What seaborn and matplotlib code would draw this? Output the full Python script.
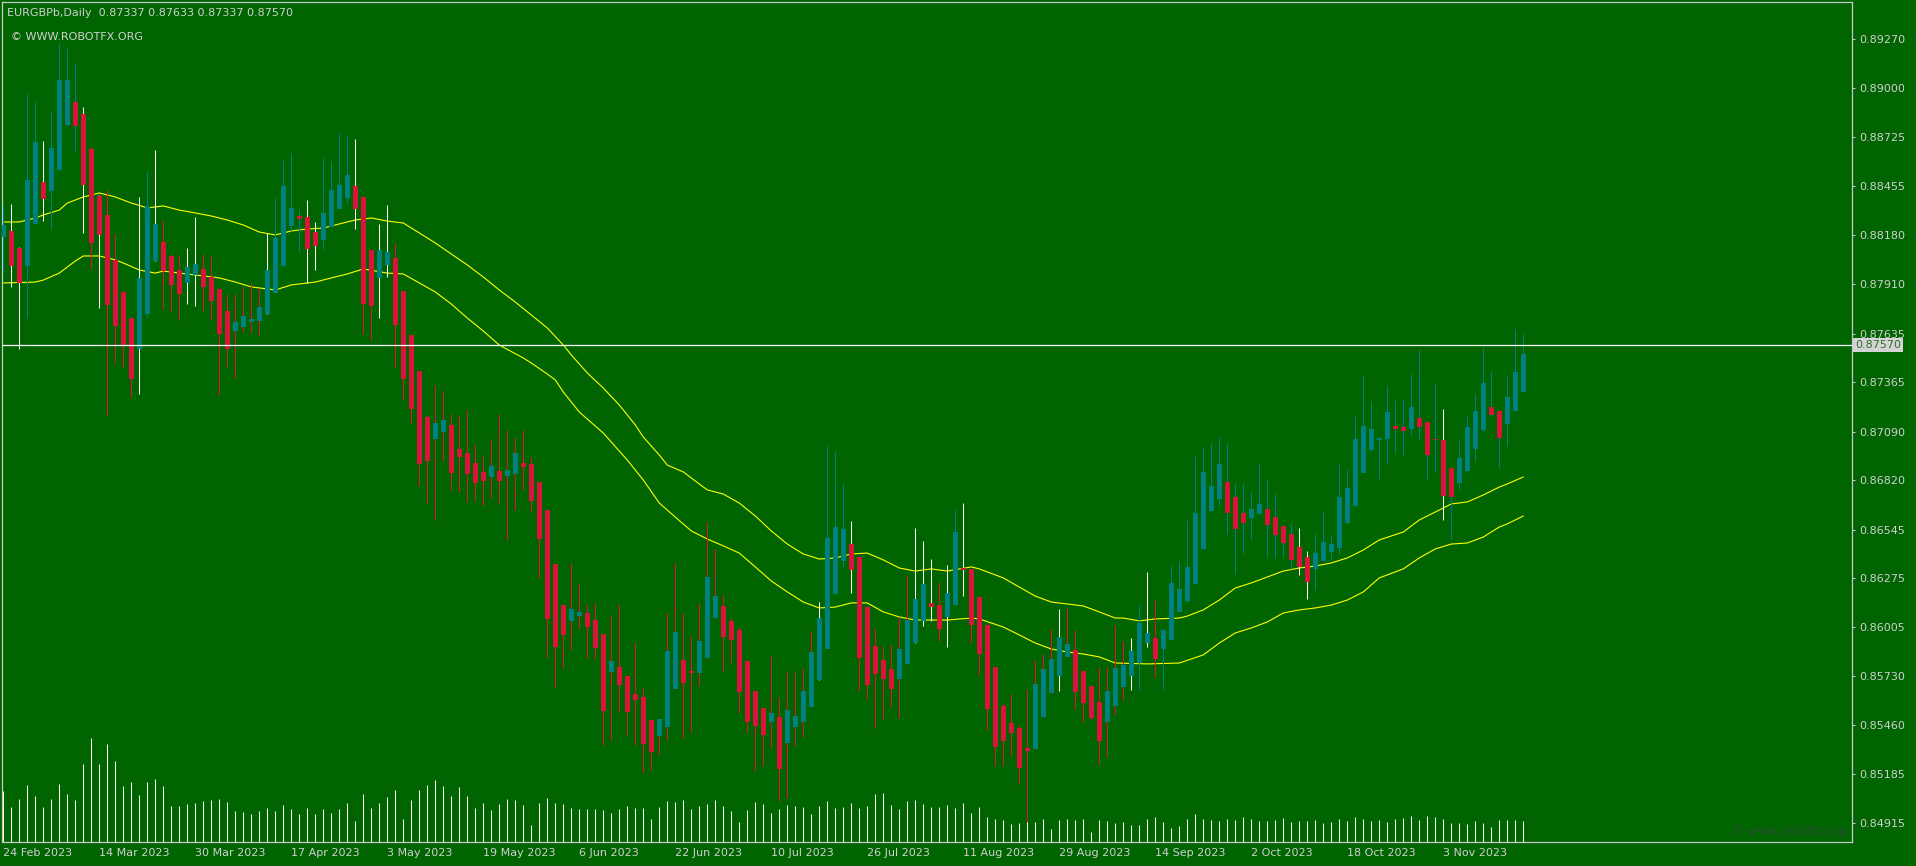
import matplotlib
matplotlib.use("Agg")
import numpy as np
import pandas as pd
import matplotlib.pyplot as plt
import seaborn as sns

# ── DATA (Heiken-Ashi daily candles, EURGBP) ────────────────────────────────
symbol = "EURGBPb,Daily"
last_ohlc = ["0.87337", "0.87633", "0.87337", "0.87570"]
last_price = 0.87570
start_date = "2023-02-24"

ha_open = [
    0.88171, 0.88205, 0.88110, 0.88010, 0.88244, 0.88477, 0.88427, 0.88544, 0.88794, 0.88922,
    0.88855, 0.88660, 0.88399, 0.88294, 0.88044, 0.87866, 0.87721, 0.87549, 0.87744, 0.88038,
    0.88144, 0.88066, 0.87988, 0.87916, 0.87960, 0.87994, 0.87949, 0.87882, 0.87760, 0.87649,
    0.87671, 0.87699, 0.87705, 0.87744, 0.87860, 0.88010, 0.88233, 0.88288, 0.88282, 0.88199,
    0.88155, 0.88227, 0.88327, 0.88388, 0.88455, 0.88394, 0.88099, 0.87944, 0.88016, 0.88055,
    0.87871, 0.87627, 0.87427, 0.87171, 0.87049, 0.87088, 0.87127, 0.86993, 0.86971, 0.86916,
    0.86866, 0.86838, 0.86871, 0.86843, 0.86854, 0.86916, 0.86910, 0.86810, 0.86654, 0.86354,
    0.86126, 0.86038, 0.86065, 0.86082, 0.86043, 0.85965, 0.85754, 0.85782, 0.85732, 0.85632,
    0.85615, 0.85487, 0.85398, 0.85449, 0.85660, 0.85821, 0.85760, 0.85749, 0.85832, 0.86054,
    0.86121, 0.86038, 0.85988, 0.85815, 0.85649, 0.85554, 0.85476, 0.85504, 0.85360, 0.85449,
    0.85476, 0.85560, 0.85710, 0.85882, 0.86188, 0.86371, 0.86465, 0.86393, 0.86115, 0.85899,
    0.85821, 0.85771, 0.85715, 0.85799, 0.85915, 0.86038, 0.86138, 0.86126, 0.86060, 0.86126,
    0.86327, 0.86327, 0.86171, 0.86015, 0.85782, 0.85565, 0.85471, 0.85443, 0.85332, 0.85326,
    0.85504, 0.85637, 0.85732, 0.85838, 0.85876, 0.85760, 0.85676, 0.85587, 0.85476, 0.85565,
    0.85671, 0.85732, 0.85804, 0.85915, 0.85943, 0.85882, 0.85932, 0.86088, 0.86149, 0.86243,
    0.86438, 0.86649, 0.86716, 0.86810, 0.86727, 0.86638, 0.86610, 0.86632, 0.86660, 0.86615,
    0.86565, 0.86521, 0.86449, 0.86393, 0.86327, 0.86371, 0.86421, 0.86443, 0.86582, 0.86677,
    0.86860, 0.86988, 0.87043, 0.87049, 0.87121, 0.87116, 0.87104, 0.87166, 0.87143, 0.87049,
    0.87043, 0.86888, 0.86804, 0.86871, 0.86993, 0.87099, 0.87227, 0.87205, 0.87132, 0.87205,
    0.87310,
]
ha_high = [
    0.88349, 0.88355, 0.88116, 0.88966, 0.88922, 0.88705, 0.88872, 0.89250, 0.89222, 0.89138,
    0.88894, 0.88672, 0.88405, 0.88433, 0.88188, 0.87877, 0.87721, 0.88394, 0.88538, 0.88655,
    0.88266, 0.88077, 0.88071, 0.88110, 0.88282, 0.88077, 0.88066, 0.87882, 0.87855, 0.87855,
    0.87899, 0.87916, 0.87888, 0.88194, 0.88388, 0.88599, 0.88638, 0.88327, 0.88377, 0.88255,
    0.88610, 0.88594, 0.88749, 0.88733, 0.88716, 0.88394, 0.88099, 0.88244, 0.88349, 0.88138,
    0.87871, 0.87632, 0.87427, 0.87182, 0.87349, 0.87316, 0.87188, 0.87182, 0.87210, 0.87021,
    0.86960, 0.87049, 0.87188, 0.87099, 0.87060, 0.87099, 0.86949, 0.86810, 0.86654, 0.86354,
    0.86126, 0.86360, 0.86249, 0.86132, 0.86138, 0.85965, 0.86071, 0.86132, 0.85732, 0.85921,
    0.85665, 0.85487, 0.85493, 0.86082, 0.86360, 0.86082, 0.85954, 0.86138, 0.86588, 0.86438,
    0.86182, 0.86054, 0.86004, 0.85815, 0.85649, 0.85554, 0.85843, 0.85615, 0.85760, 0.85754,
    0.85776, 0.85982, 0.86143, 0.87010, 0.86982, 0.86799, 0.86593, 0.86393, 0.86115, 0.85999,
    0.85899, 0.85910, 0.86060, 0.86293, 0.86554, 0.86482, 0.86382, 0.86254, 0.86349, 0.86660,
    0.86693, 0.86327, 0.86171, 0.86015, 0.85782, 0.85582, 0.85632, 0.85460, 0.85660, 0.85821,
    0.85854, 0.85993, 0.86104, 0.86110, 0.85988, 0.85760, 0.85676, 0.85782, 0.85782, 0.86015,
    0.85926, 0.85943, 0.86126, 0.86310, 0.86154, 0.85988, 0.86343, 0.86371, 0.86599, 0.86954,
    0.87004, 0.87027, 0.87060, 0.87027, 0.86804, 0.86804, 0.86754, 0.86916, 0.86827, 0.86743,
    0.86571, 0.86582, 0.86554, 0.86427, 0.86521, 0.86649, 0.86515, 0.86910, 0.86882, 0.87177,
    0.87405, 0.87260, 0.87060, 0.87343, 0.87266, 0.87271, 0.87410, 0.87543, 0.87143, 0.87360,
    0.87216, 0.86893, 0.87043, 0.87177, 0.87299, 0.87555, 0.87427, 0.87210, 0.87399, 0.87660,
    0.87633,
]
ha_low = [
    0.87971, 0.87894, 0.87549, 0.87721, 0.88244, 0.88260, 0.88216, 0.88544, 0.88794, 0.88649,
    0.88194, 0.87994, 0.87777, 0.87182, 0.87471, 0.87449, 0.87282, 0.87299, 0.87721, 0.88038,
    0.87771, 0.87755, 0.87710, 0.87799, 0.87788, 0.87760, 0.87710, 0.87293, 0.87449, 0.87388,
    0.87643, 0.87638, 0.87621, 0.87744, 0.87860, 0.88010, 0.88205, 0.88088, 0.87916, 0.87988,
    0.88105, 0.88227, 0.88327, 0.88360, 0.88216, 0.87632, 0.87599, 0.87721, 0.87949, 0.87449,
    0.87266, 0.87138, 0.86788, 0.86693, 0.86599, 0.86927, 0.86766, 0.86754, 0.86699, 0.86704,
    0.86677, 0.86721, 0.86688, 0.86488, 0.86654, 0.86766, 0.86649, 0.86277, 0.85832, 0.85671,
    0.85776, 0.85876, 0.85993, 0.85832, 0.85826, 0.85348, 0.85376, 0.85532, 0.85404, 0.85348,
    0.85198, 0.85210, 0.85293, 0.85376, 0.85660, 0.85387, 0.85421, 0.85676, 0.85832, 0.86054,
    0.85760, 0.85804, 0.85526, 0.85415, 0.85204, 0.85232, 0.85332, 0.85037, 0.85054, 0.85343,
    0.85393, 0.85560, 0.85710, 0.85882, 0.86188, 0.86338, 0.86193, 0.85649, 0.85604, 0.85443,
    0.85493, 0.85560, 0.85499, 0.85799, 0.85915, 0.86010, 0.86038, 0.85926, 0.85893, 0.86126,
    0.86176, 0.85915, 0.85737, 0.85432, 0.85232, 0.85232, 0.85287, 0.85132, 0.84921, 0.85326,
    0.85504, 0.85637, 0.85649, 0.85838, 0.85549, 0.85476, 0.85487, 0.85237, 0.85282, 0.85515,
    0.85599, 0.85654, 0.85654, 0.85893, 0.85726, 0.85654, 0.85932, 0.86088, 0.86143, 0.86243,
    0.86438, 0.86649, 0.86677, 0.86521, 0.86299, 0.86415, 0.86493, 0.86632, 0.86393, 0.86388,
    0.86393, 0.86327, 0.86293, 0.86160, 0.86210, 0.86371, 0.86377, 0.86404, 0.86577, 0.86677,
    0.86860, 0.86977, 0.86827, 0.86910, 0.86971, 0.86954, 0.87071, 0.87043, 0.86821, 0.86866,
    0.86599, 0.86493, 0.86771, 0.86871, 0.86927, 0.87093, 0.87177, 0.86888, 0.87010, 0.87205,
    0.87310,
]
ha_close = [
    0.88238, 0.88010, 0.87916, 0.88488, 0.88699, 0.88383, 0.88666, 0.89044, 0.89044, 0.88788,
    0.88460, 0.88138, 0.88183, 0.87794, 0.87677, 0.87571, 0.87382, 0.87944, 0.88344, 0.88244,
    0.87982, 0.87905, 0.87855, 0.88005, 0.88021, 0.87894, 0.87816, 0.87632, 0.87549, 0.87699,
    0.87732, 0.87716, 0.87782, 0.87988, 0.88166, 0.88455, 0.88333, 0.88271, 0.88105, 0.88121,
    0.88305, 0.88433, 0.88460, 0.88516, 0.88327, 0.87799, 0.87788, 0.88099, 0.88088, 0.87682,
    0.87382, 0.87216, 0.86910, 0.86927, 0.87138, 0.87155, 0.86860, 0.86949, 0.86854, 0.86804,
    0.86816, 0.86899, 0.86816, 0.86877, 0.86971, 0.86893, 0.86704, 0.86493, 0.86049, 0.85893,
    0.85960, 0.86104, 0.86088, 0.86004, 0.85888, 0.85537, 0.85815, 0.85682, 0.85532, 0.85599,
    0.85354, 0.85310, 0.85493, 0.85871, 0.85976, 0.85693, 0.85749, 0.85926, 0.86282, 0.86176,
    0.85949, 0.85932, 0.85643, 0.85476, 0.85454, 0.85404, 0.85526, 0.85215, 0.85543, 0.85510,
    0.85649, 0.85865, 0.86054, 0.86499, 0.86560, 0.86549, 0.86321, 0.85832, 0.85682, 0.85743,
    0.85715, 0.85660, 0.85882, 0.86043, 0.86160, 0.86243, 0.86115, 0.85993, 0.86193, 0.86532,
    0.86321, 0.86015, 0.85854, 0.85549, 0.85337, 0.85371, 0.85415, 0.85221, 0.85315, 0.85687,
    0.85771, 0.85826, 0.85949, 0.85910, 0.85643, 0.85582, 0.85499, 0.85371, 0.85649, 0.85776,
    0.85793, 0.85871, 0.86026, 0.85971, 0.85826, 0.85988, 0.86249, 0.86215, 0.86338, 0.86638,
    0.86866, 0.86788, 0.86910, 0.86638, 0.86549, 0.86582, 0.86660, 0.86688, 0.86571, 0.86515,
    0.86471, 0.86377, 0.86338, 0.86254, 0.86415, 0.86477, 0.86465, 0.86727, 0.86777, 0.87049,
    0.87121, 0.87104, 0.87054, 0.87199, 0.87104, 0.87093, 0.87227, 0.87116, 0.86960, 0.87043,
    0.86732, 0.86727, 0.86943, 0.87116, 0.87205, 0.87360, 0.87182, 0.87054, 0.87282, 0.87421,
    0.87521,
]
# relative tick volume
tick_volume = [
    51, 35, 43, 57, 46, 35, 43, 58, 48, 42,
    78, 104, 78, 98, 81, 56, 60, 47, 60, 63,
    56, 36, 36, 38, 39, 41, 42, 43, 40, 31,
    30, 28, 31, 34, 31, 37, 33, 28, 34, 28,
    33, 29, 33, 39, 21, 48, 34, 39, 45, 52,
    23, 42, 52, 57, 62, 56, 46, 55, 46, 34,
    39, 32, 38, 43, 42, 37, 17, 39, 44, 39,
    38, 34, 33, 33, 33, 32, 29, 33, 36, 34,
    34, 23, 35, 41, 40, 42, 33, 36, 38, 42,
    36, 31, 20, 32, 40, 38, 29, 33, 37, 36,
    35, 28, 36, 41, 34, 35, 39, 34, 36, 48,
    49, 37, 33, 41, 42, 38, 35, 35, 37, 34,
    39, 29, 35, 25, 23, 22, 18, 19, 22, 20,
    23, 13, 22, 23, 22, 23, 10, 22, 21, 19,
    20, 17, 17, 23, 25, 20, 14, 16, 23, 28,
    23, 22, 21, 23, 22, 25, 23, 21, 21, 22,
    24, 20, 21, 21, 22, 19, 20, 23, 21, 25,
    23, 21, 22, 20, 23, 24, 26, 22, 26, 25,
    23, 19, 19, 18, 21, 19, 15, 22, 22, 22,
    21,
]
# wick colour code per bar: t = teal, r = red, w = white
wick_code = (
    "twwttwtttt" "wrwrrrrwtw" "rrrwwrrrrr" "rrrwttttww" "ttttwrrwwr"
    "rrrrrrrrrr" "rrrrrrrrrr" "rrrrrrrrrr" "rrrrrrrrrr" "rrrrrrrrrr"
    "rrwtttwrrr" "rrrrwwwrwt" "wrrrrrrrrr" "rrwrrrrrrr" "rwtwrttttt"
    "tttttttttt" "ttwwtttttt" "tttttttttt" "wttttttttt" "t"
)

# channel lines (MA of highs / MA of lows), sampled at bar index
upper_idx = [0, 2, 4, 5, 7, 8, 10, 12, 14, 16, 18, 20, 22, 24, 26, 28, 30, 32, 34, 36,
             38, 40, 42, 44, 46, 48, 50, 52, 54, 56, 58, 60, 62, 64, 66, 68, 70, 71, 73, 75,
             77, 79, 80, 82, 83, 85, 86, 88, 90, 92, 94, 96, 98, 100, 102, 104, 106, 108, 110, 112,
             114, 116, 118, 121, 122, 125, 127, 129, 131, 133, 135, 137, 139, 140, 142, 144, 147, 148, 150, 152,
             154, 156, 158, 160, 162, 164, 166, 168, 170, 172, 175, 177, 179, 181, 183, 185, 187, 188, 190]
upper_val = [0.88255, 0.88255, 0.88277, 0.88294, 0.88321, 0.88360, 0.88394, 0.88416, 0.88394, 0.88360,
             0.88333, 0.88344, 0.88321, 0.88305, 0.88288, 0.88266, 0.88238, 0.88199, 0.88183, 0.88205,
             0.88216, 0.88221, 0.88244, 0.88266, 0.88277, 0.88260, 0.88249, 0.88194, 0.88138, 0.88077,
             0.88016, 0.87949, 0.87877, 0.87810, 0.87738, 0.87666, 0.87571, 0.87516, 0.87416, 0.87332,
             0.87238, 0.87127, 0.87060, 0.86960, 0.86904, 0.86866, 0.86832, 0.86766, 0.86743, 0.86693,
             0.86621, 0.86538, 0.86465, 0.86410, 0.86382, 0.86388, 0.86410, 0.86415, 0.86377, 0.86332,
             0.86315, 0.86327, 0.86315, 0.86338, 0.86327, 0.86277, 0.86226, 0.86176, 0.86143, 0.86132,
             0.86121, 0.86088, 0.86054, 0.86054, 0.86038, 0.86049, 0.86054, 0.86065, 0.86099, 0.86154,
             0.86221, 0.86249, 0.86282, 0.86315, 0.86332, 0.86343, 0.86360, 0.86388, 0.86432, 0.86488,
             0.86532, 0.86599, 0.86643, 0.86688, 0.86699, 0.86738, 0.86782, 0.86799, 0.86838]
lower_idx = [0, 4, 5, 7, 9, 10, 12, 14, 15, 17, 19, 20, 22, 25, 27, 29, 31, 34, 36, 39,
             41, 43, 45, 48, 50, 52, 54, 56, 58, 60, 62, 65, 66, 68, 69, 70, 72, 75, 78, 80,
             82, 84, 86, 88, 90, 92, 94, 96, 98, 100, 102, 104, 106, 108, 110, 112, 114, 118, 121, 122,
             125, 127, 129, 131, 133, 135, 137, 139, 143, 147, 150, 152, 154, 156, 158, 160, 162, 164, 166, 168,
             170, 172, 175, 177, 179, 181, 183, 185, 187, 188, 190]
lower_val = [0.87916, 0.87921, 0.87932, 0.87971, 0.88038, 0.88066, 0.88066, 0.88044, 0.88027, 0.87988,
             0.87971, 0.87982, 0.87971, 0.87955, 0.87944, 0.87921, 0.87894, 0.87877, 0.87905, 0.87921,
             0.87944, 0.87966, 0.87994, 0.87971, 0.87966, 0.87916, 0.87866, 0.87799, 0.87721, 0.87649,
             0.87571, 0.87499, 0.87471, 0.87410, 0.87377, 0.87310, 0.87199, 0.87082, 0.86932, 0.86821,
             0.86693, 0.86615, 0.86538, 0.86493, 0.86455, 0.86415, 0.86338, 0.86260, 0.86199, 0.86143,
             0.86110, 0.86115, 0.86138, 0.86138, 0.86088, 0.86060, 0.86043, 0.86043, 0.86054, 0.86049,
             0.86004, 0.85960, 0.85915, 0.85882, 0.85865, 0.85854, 0.85838, 0.85804, 0.85799, 0.85804,
             0.85849, 0.85915, 0.85971, 0.85999, 0.86032, 0.86082, 0.86099, 0.86110, 0.86126, 0.86154,
             0.86199, 0.86277, 0.86327, 0.86388, 0.86438, 0.86465, 0.86471, 0.86504, 0.86560, 0.86577,
             0.86621]

price_ticks = [0.89270, 0.89000, 0.88725, 0.88455, 0.88180, 0.87910, 0.87635, 0.87365, 0.87090,
               0.86820, 0.86545, 0.86275, 0.86005, 0.85730, 0.85460, 0.85185, 0.84915]

# ── STYLE ───────────────────────────────────────────────────────────────────
BG = "#006400"
FG = "#D0D0D0"
FRAME = "#C8C8C8"
BULL = "#008080"
BEAR = "#DC143C"
BAND = "#FFFF00"
W, H, DPI = 1916, 866, 100

sns.set_theme(style="dark", rc={"axes.facecolor": BG, "figure.facecolor": BG,
                                "axes.edgecolor": FRAME, "text.color": FG,
                                "xtick.color": FG, "ytick.color": FG})
plt.rcParams["font.family"] = ["DejaVu Sans"]

df = pd.DataFrame({"open": ha_open, "high": ha_high, "low": ha_low,
                   "close": ha_close, "volume": tick_volume})
df["date"] = pd.bdate_range(start_date, periods=len(df))
df["body_col"] = np.where(df["close"] >= df["open"], BULL, BEAR)
df["wick_col"] = [{"t": BULL, "r": BEAR, "w": "white"}[c] for c in wick_code]
px = 1.0 / 18003  # one pixel in price units
df["body_lo"] = df[["open", "close"]].min(axis=1)
df["body_h"] = (df["close"] - df["open"]).abs().clip(lower=1.5 * px)

fig = plt.figure(figsize=(W / DPI, H / DPI), dpi=DPI)
ax = fig.add_axes([2 / W, 24 / H, 1850 / W, 840 / H])
vol_ax = ax.twinx()
ax.set_zorder(vol_ax.get_zorder() + 1)
ax.patch.set_visible(False)

ax.set_xlim(-0.1625, 231.09)
ax.set_ylim(0.848094, 0.894773)

# volume (background)
vol_ax.vlines(df.index, 0, df["volume"], colors="white", lw=0.75)
vol_ax.set_ylim(0, 840)
vol_ax.set_yticks([])
for s in vol_ax.spines.values():
    s.set_visible(False)

# channel
sns.lineplot(x=upper_idx, y=upper_val, ax=ax, color=BAND, lw=0.8,
             estimator=None, sort=False, legend=False, zorder=2)
sns.lineplot(x=lower_idx, y=lower_val, ax=ax, color=BAND, lw=0.8,
             estimator=None, sort=False, legend=False, zorder=2)

# candles
ax.vlines(df.index, df["low"], df["high"], colors=df["wick_col"], lw=0.75, zorder=3)
ax.bar(df.index, df["body_h"], bottom=df["body_lo"], width=0.62,
       color=df["body_col"], linewidth=0, zorder=4)

# current price line
ax.axhline(last_price, color="white", lw=0.9, zorder=5)

# axes / ticks
ax.grid(False)
ax.yaxis.tick_right()
ax.set_yticks(price_ticks)
ax.set_yticklabels([f"{v:.5f}" for v in price_ticks])
ax.tick_params(axis="y", direction="out", length=2.5, width=0.72, colors=FG,
               labelsize=8, pad=3)
xt = list(range(0, len(df), 12))
ax.set_xticks(xt)
ax.set_xticklabels([f"{d.day} {d:%b %Y}" for d in df["date"].iloc[xt]], ha="left")
ax.tick_params(axis="x", direction="out", length=3, width=0.72, colors=FG,
               labelsize=8, pad=1.5)
ax.set_xlabel("")
ax.set_ylabel("")
for s in ax.spines.values():
    s.set_visible(True)
    s.set_color(FRAME)
    s.set_linewidth(0.9)

# price box
ax.text(1 + 3 / 1850, last_price, f"{last_price:.5f}", transform=ax.get_yaxis_transform(),
        ha="left", va="center", fontsize=8, color="#2F6F2F", zorder=10, clip_on=False,
        bbox=dict(boxstyle="square,pad=0.18", fc="#D4D4D4", ec="none"))

# header and watermarks
fig.text(7 / W, 1 - 12.5 / H, f"{symbol}  {' '.join(last_ohlc)}", color=FG,
         fontsize=8, ha="left", va="center")
fig.text(11 / W, 1 - 37 / H, "\u00a9 WWW.ROBOTFX.ORG", color=FG,
         fontsize=8, ha="left", va="center")
fig.text(1847 / W, 1 - 831 / H, "\u00a9 www.robotfx.org", color="#2E4C3C",
         fontsize=8.5, ha="right", va="center", family=["DejaVu Serif"])

fig.savefig("out.png", dpi=DPI, facecolor=BG)
